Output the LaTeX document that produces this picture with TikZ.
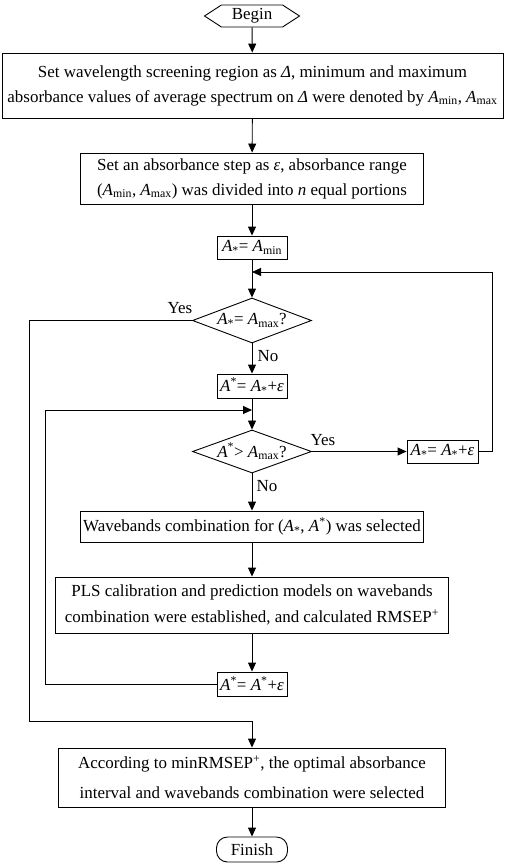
\documentclass[tikz,border=0pt]{standalone}
\usepackage{fontspec}
\setmainfont{Liberation Serif}
\usetikzlibrary{shapes.geometric,shapes.symbols,arrows.meta}
\newcommand{\Av}{\textit{A}}
\newcommand{\Amin}{\textit{A}\textsubscript{min}}
\newcommand{\Amax}{\textit{A}\textsubscript{max}}
\newcommand{\Asub}{\textit{A}\textsubscript{*}}
\newcommand{\Asup}{\textit{A}\textsuperscript{*}}
\newcommand{\eps}{\textit{ε}}
\newcommand{\Dl}{\textit{Δ}}
\begin{document}
\begin{tikzpicture}[x=1bp,y=-1bp,
  every node/.style={font=\fontsize{17}{25}\selectfont},
  box/.style={draw,line width=0.9bp,inner sep=0pt,align=center},
  dia/.style={draw,line width=0.9bp,diamond,aspect=2.64,inner sep=0pt,minimum width=119bp,minimum height=45bp},
  arr/.style={line width=0.9bp,-{Triangle[length=9bp,width=8bp]}},
  ln/.style={line width=0.9bp},
  lbl/.style={inner sep=0pt}]
\useasboundingbox (0,0) rectangle (505,865);
\node[draw,line width=0.9bp,signal,signal to=west and east,signal pointer angle=66,minimum width=95bp,minimum height=22bp,inner sep=0pt] (begin) at (252,16) {Begin};
\node[box,minimum width=501bp,minimum height=65bp] (b1) at (252.5,85.5) {Set wavelength screening region as \Dl, minimum and maximum\\absorbance values of average spectrum on \Dl{} were denoted by \Amin, \Amax};
\node[box,minimum width=343bp,minimum height=51bp] (b2) at (252,178.5) {Set an absorbance step as \eps, absorbance range\\(\Amin, \Amax) was divided into \textit{n} equal portions};
\node[box,minimum width=70bp,minimum height=23bp] (b3) at (252,247.5) {\Asub= \Amin};
\node[dia] (d1) at (252,320.5) {\Asub= \Amax?};
\node[box,minimum width=70bp,minimum height=24bp] (b4) at (252,386) {\Asup= \Asub+\eps};
\node[dia,minimum height=43bp] (d2) at (252,451.5) {\Asup> \Amax?};
\node[box,minimum width=71bp,minimum height=23bp] (b5) at (442.5,451.5) {\Asub= \Asub+\eps};
\node[box,minimum width=343bp,minimum height=31bp] (b6) at (252,526.5) {Wavebands combination for (\Asub, \Asup) was selected};
\node[box,minimum width=393bp,minimum height=56bp,font=\fontsize{17}{26}\selectfont] (b7) at (252,605) {PLS calibration and prediction models on wavebands\\combination were established, and calculated RMSEP\textsuperscript{+}};
\node[box,minimum width=70bp,minimum height=24bp] (b8) at (252,684) {\Asup= \Asup+\eps};
\node[box,minimum width=387bp,minimum height=59bp,font=\fontsize{17}{30}\selectfont] (b9) at (252,777.5) {According to minRMSEP\textsuperscript{+}, the optimal absorbance\\interval and wavebands combination were selected};
\node[draw,line width=0.9bp,rounded corners=11bp,minimum width=71bp,minimum height=25bp,inner sep=0pt] (fin) at (252,849.5) {Finish};
\coordinate (j1) at (252,272);
\coordinate (j2) at (252,410);
\coordinate (j3) at (252,721);
\coordinate (rx) at (492,0);
\coordinate (lx1) at (29,0);
\coordinate (lx2) at (45,0);
\draw[arr] (begin) -- (b1);
\draw[arr] (b1) -- (b2);
\draw[arr] (b2) -- (b3);
\draw[arr] (b3) -- (d1);
\draw[arr] (d1) -- (b4);
\draw[arr] (b4) -- (d2);
\draw[arr] (d2) -- (b5);
\draw[arr] (d2) -- (b6);
\draw[arr] (b6) -- (b7);
\draw[arr] (b7) -- (b8);
\draw[arr] (b9) -- (fin);
\draw[arr] (b5.east) -| (rx |- j1) -- (j1);
\draw[arr] (b8.west) -| (lx2 |- j2) -- (j2);
\draw[arr] (d1.west) -| (lx1 |- j3) -- (j3) -- (b9.north);
\node[lbl] (yes1) at (180,308) {Yes};
\node[lbl] (no1) at (268,356) {No};
\node[lbl] (yes2) at (323,440) {Yes};
\node[lbl] (no2) at (267,486) {No};
\end{tikzpicture}
\end{document}
